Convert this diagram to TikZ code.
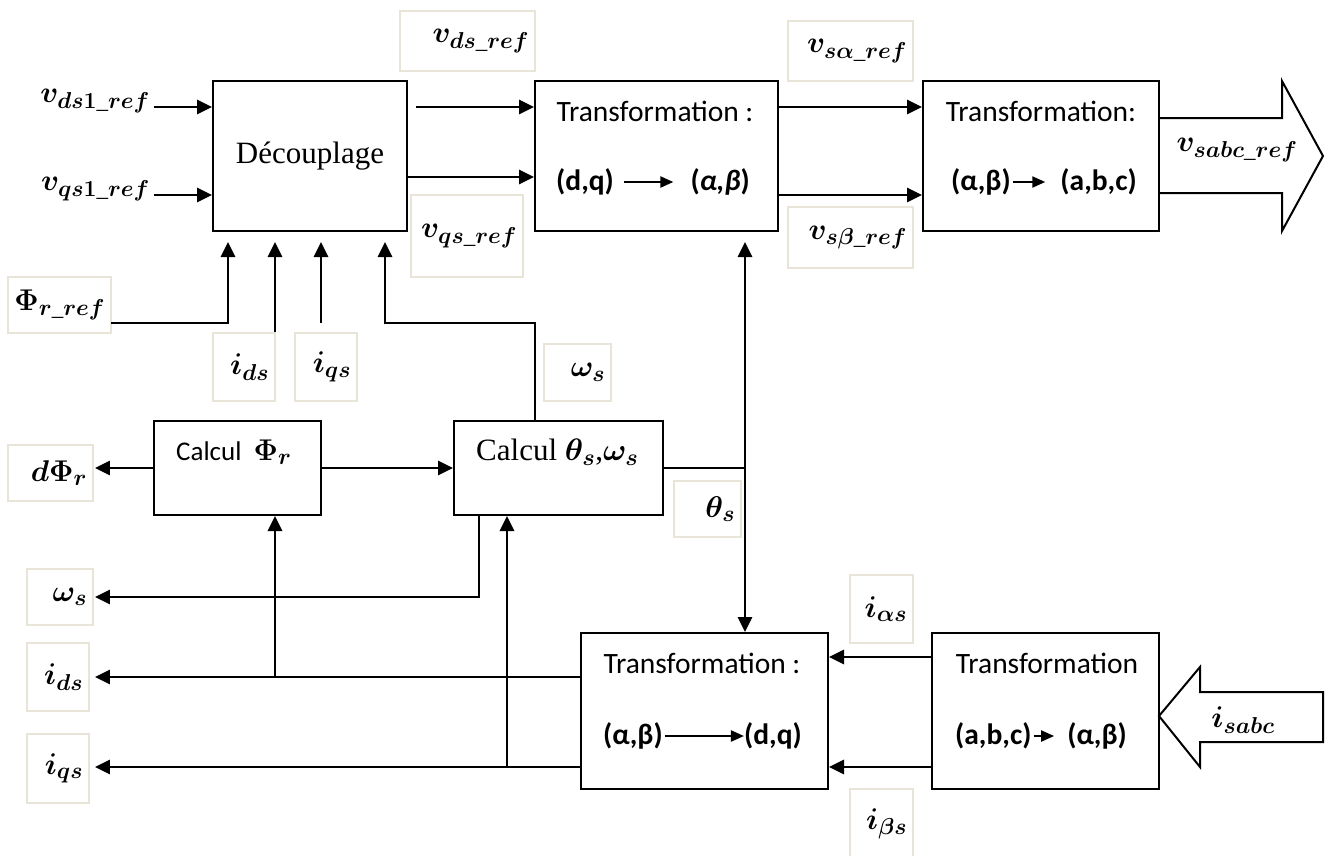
\RequirePackage{fix-cm}
\documentclass[tikz,border=0pt]{standalone}
\usepackage{amsmath}
\usepackage[no-math]{fontspec}
\setmainfont{Liberation Serif}
\newfontfamily\calib{Carlito}
\usepackage{bm}
\usetikzlibrary{arrows.meta}
\DeclareMathSizes{30}{30}{23}{18}
\DeclareMathSizes{31}{31}{23.5}{18}
\definecolor{beige}{HTML}{E8E5D8}
\newcommand{\mf}{\fontsize{30}{34}\selectfont}
\newcommand{\tf}{\calib\fontsize{29.5}{33}\selectfont}
\newcommand{\lbox}[6]{%
  \pgfmathsetmacro\lbw{#4-#2-12}%
  \pgfmathsetmacro\lbh{#5-#3}%
  \node[lbl, text width=\lbw pt, minimum height=\lbh pt] (#1) at ({(#2+#4)/2},{(#3+#5)/2}) {#6};}
\begin{document}
\begin{tikzpicture}[x=1pt,y=-1pt,
  box/.style={draw, line width=2pt, inner sep=0pt},
  lbl/.style={draw=beige, line width=1.8pt, inner xsep=6pt, inner ysep=0pt, align=right, font=\mf},
  mlab/.style={inner sep=0pt, font=\mf},
  tx/.style={inner sep=0pt, font=\tf},
  con/.style={line width=2.8pt},
  arr/.style={con, -{Triangle[length=15pt,width=14pt]}},
  barr/.style={con, {Triangle[length=15pt,width=14pt]}-{Triangle[length=15pt,width=14pt]}},
  sarr/.style={line width=2.2pt, -{Triangle[length=13pt,width=11pt]}},
  big/.style={line width=2pt, line join=miter}]
\path[use as bounding box, fill=white] (0,0) rectangle (1331,855);

% main blocks
\node[box, minimum width=194pt, minimum height=150pt, font=\fontsize{31}{34}\selectfont] (dec) at (310,156) {D\'ecouplage};
\node[box, minimum width=243pt, minimum height=150pt] (t1) at (656.5,156) {};
\node[box, minimum width=236pt, minimum height=150pt] (t2) at (1041,156) {};
\node[box, minimum width=167pt, minimum height=94pt] (cp) at (237.5,468) {};
\node[box, minimum width=209pt, minimum height=94pt] (ct) at (558.5,468) {};
\node[box, minimum width=247pt, minimum height=156pt] (t3) at (704.5,711) {};
\node[box, minimum width=227pt, minimum height=156pt] (t4) at (1045.5,711) {};

% block texts
\node[tx] (t1a) at (655,111) {Transformation :};
\node[tx, anchor=west] (t1b) at (556,182) {\bfseries (d,q)};
\node[tx, anchor=east] (t1c) at (750,182) {\bfseries (\textit{α,β})};
\draw[sarr] ([xshift=10pt]t1b.east) -- ([xshift=-17pt]t1c.west);

\node[tx] (t2a) at (1041,111) {Transformation:};
\node[tx, anchor=west] (t2b) at (951,182) {\bfseries (α,β)};
\node[tx, anchor=east] (t2c) at (1137,182) {\bfseries (a,b,c)};
\draw[sarr] ([xshift=2pt]t2b.east) -- ([xshift=-15pt]t2c.west);

\node[tx] (t3a) at (702,663) {Transformation :};
\node[tx, anchor=west] (t3b) at (603,736) {\bfseries (α,β)};
\node[tx, anchor=east] (t3c) at (802,736) {\bfseries (d,q)};
\draw[sarr] ([xshift=2pt]t3b.east) -- (t3c.west);

\node[tx] (t4a) at (1047,663) {Transformation};
\node[tx, anchor=west] (t4b) at (955,736) {\bfseries (a,b,c)};
\node[tx, anchor=east] (t4c) at (1127,736) {\bfseries (α,β)};
\draw[sarr] ([xshift=2pt]t4b.east) -- ([xshift=-13pt]t4c.west);

\node[inner sep=0pt, anchor=west, font=\calib\fontsize{27}{30}\selectfont] (cpt) at (176,452) {Calcul\ \ {\mf$\bm{\Phi}_{\bm{r}}$}};
\node[inner sep=0pt, anchor=west, font=\fontsize{31}{34}\selectfont] (ctt) at (476,452) {Calcul $\bm{\theta}_{\bm{s}}$,$\bm{\omega}_{\bm{s}}$};

% free labels
\node[mlab, anchor=east] (vds1) at (150,101) {$\bm{v}_{\bm{ds1}\_\bm{ref}}$};
\node[mlab, anchor=east] (vqs1) at (150,189) {$\bm{v}_{\bm{qs1}\_\bm{ref}}$};
\node[mlab] (vsabc) at (1237,150) {$\bm{v}_{\bm{sabc}\_\bm{ref}}$};
\node[mlab] (isabc) at (1243,720) {$\bm{i}_{\bm{sabc}}$};

% boxed labels
\lbox{vdsref}{400}{11}{535}{71}{$\bm{v}_{\bm{ds}\_\bm{ref}}$}
\lbox{vqsref}{411}{195}{523}{277}{$\bm{v}_{\bm{qs}\_\bm{ref}}$}
\lbox{vsaref}{788}{21}{913}{81}{$\bm{v}_{\bm{s\alpha}\_\bm{ref}}$}
\lbox{vsbref}{788}{207}{913}{268}{$\bm{v}_{\bm{s\beta}\_\bm{ref}}$}
\lbox{phiref}{8}{277}{111}{333}{$\bm{\Phi}_{\bm{r}\_\bm{ref}}$}
\lbox{idst}{213}{333}{275}{401}{$\bm{i}_{\bm{ds}}$}
\lbox{iqst}{295}{333}{357}{401}{$\bm{i}_{\bm{qs}}$}
\lbox{wst}{544}{344}{611}{401}{$\bm{\omega}_{\bm{s}}$}
\lbox{dphi}{8}{445}{93}{501}{$\bm{d\Phi}_{\bm{r}}$}
\lbox{ths}{674}{481}{741}{537}{$\bm{\theta}_{\bm{s}}$}
\lbox{wsl}{27}{569}{93}{625}{$\bm{\omega}_{\bm{s}}$}
\lbox{idsl}{27}{643}{89}{711}{$\bm{i}_{\bm{ds}}$}
\lbox{iqsl}{27}{734}{89}{803}{$\bm{i}_{\bm{qs}}$}
\lbox{ias}{850}{575}{913}{643}{$\bm{i}_{\bm{\alpha s}}$}
\lbox{ibs}{850}{789}{913}{859}{$\bm{i}_{\bm{\beta s}}$}

% coordinates
\coordinate (a1) at (154,107);
\coordinate (a2) at (154,195);
\coordinate (d1) at (416,107);
\coordinate (d2) at (407,177);
\coordinate (e2) at (778,195);
\coordinate (p1) at (111,323);
\coordinate (in1) at (228,242);
\coordinate (in2) at (275,242);
\coordinate (in3) at (321,242);
\coordinate (in4) at (385,242);
\coordinate (q1) at (275,332);
\coordinate (q2) at (321,323);
\coordinate (w1) at (535,421);
\coordinate (w2) at (479,515);
\coordinate (th1) at (745,242);
\coordinate (c1) at (581,677);
\coordinate (c2) at (581,767);
\coordinate (j1) at (275,677);
\coordinate (j2) at (507,767);
\coordinate (k1) at (932,657);
\coordinate (k2) at (932,767);

% connectors top
\draw[arr] (a1) -- (a1 -| dec.west);
\draw[arr] (a2) -- (a2 -| dec.west);
\draw[arr] (d1) -- (d1 -| t1.west);
\draw[arr] (d2) -- (d2 -| t1.west);
\draw[arr] (t1.east |- d1) -- (t2.west |- d1);
\draw[arr] (e2) -- (e2 -| t2.west);
\draw[big] (1159,118) -- (1282,118) -- (1282,81) -- (1323,156) -- (1282,231) -- (1282,193) -- (1159,193);

% inputs to decoupling
\draw[arr] (p1) -- (p1 -| in1) -- (in1);
\draw[arr] (q1) -- (in2);
\draw[arr] (q2) -- (in3);
\draw[arr] (w1) -- (w1 |- p1) -- (in4 |- p1) -- (in4);

% middle
\draw[arr] (cp.west) -- ([xshift=1pt]cp.west -| dphi.east);
\draw[arr] (cp.east) -- (ct.west);
\draw[con] (ct.east) -- (ct.east -| th1);
\draw[barr] (th1) -- (th1 |- t3.north);
\draw[arr] (w2) -- (w2 |- wsl.east) -- ([xshift=1pt]wsl.east);

% bottom
\draw[arr] (c1) -- ([xshift=5pt]c1 -| idsl.east);
\draw[arr] (j1) -- (j1 |- cp.south);
\draw[arr] (c2) -- ([xshift=5pt]c2 -| iqsl.east);
\draw[arr] (j2) -- (j2 |- ct.south);
\draw[arr] (k1) -- (k1 -| t3.east);
\draw[arr] (k2) -- (k2 -| t3.east);
\draw[big] (1323,692) -- (1200,692) -- (1200,667) -- (1159,716) -- (1200,767) -- (1200,742) -- (1323,742) -- cycle;
\end{tikzpicture}
\end{document}
